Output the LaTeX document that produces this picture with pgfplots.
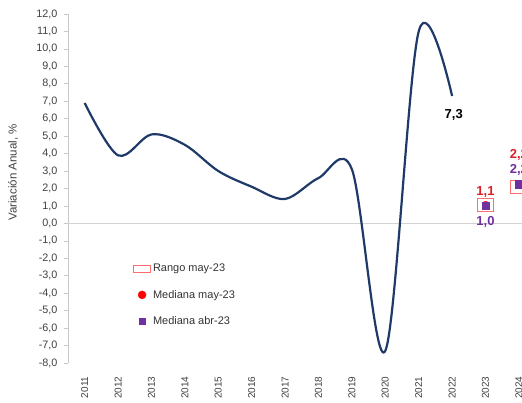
\documentclass[border=0pt]{standalone}
\usepackage{pgfplots}
\pgfplotsset{compat=1.18}
\usepackage{fontspec}
\setmainfont{Liberation Sans}
\definecolor{navy}{RGB}{31,58,104}
\definecolor{rlab}{RGB}{220,30,40}
\definecolor{plab}{RGB}{112,48,160}
\definecolor{boxred}{RGB}{255,110,110}
\definecolor{axgray}{RGB}{200,200,200}
\begin{document}
\begin{tikzpicture}[x=1pt,y=1pt]
\useasboundingbox (0,0) rectangle (522,403);
\begin{axis}[
  at={(68pt,40pt)}, anchor=south west,
  scale only axis, width=467.6pt, height=349pt,
  xmin=-0.5, xmax=13.5, ymin=-8, ymax=12,
  axis x line*=none, axis y line*=left,
  axis line style={axgray},
  x axis line style={draw=none},
  xtick={0,...,13},
  xticklabels={2011,2012,2013,2014,2015,2016,2017,2018,2019,2020,2021,2022,2023,2024},
  xtick style={draw=none},
  xticklabel shift=6pt,
  xticklabel style={rotate=90, anchor=east, font=\fontsize{10}{11}\selectfont, text=black!75},
  ytick={-8,-7,...,12},
  ytick style={axgray, line width=0.6pt},
  tick align=outside, major tick length=4pt,
  yticklabel style={font=\fontsize{10.8}{11}\selectfont, text=black!75, xshift=-3pt},
  /pgf/number format/.cd, fixed, fixed zerofill, precision=1, use comma, assume math mode=true,
  /pgfplots/.cd,
  ylabel={Variación Anual, \%},
  every axis y label/.style={at={(axis description cs:-0.1176,0.546)}, rotate=90, anchor=center, font=\fontsize{11.5}{12}\selectfont, text=black!75},
  clip=false,
  legend style={draw=none, fill=none, at={(axis description cs:0.139,0.29)}, anchor=north west, font=\fontsize{11}{12}\selectfont, text=black!80, row sep=13pt, legend cell align=left, inner sep=0pt},
]
\addplot[axgray!80, line width=0.8pt, forget plot] coordinates {(-0.5,0) (13.5,0)};
\addplot[navy, line width=2.2pt, smooth, tension=0.55, forget plot] coordinates {
 (0,6.9) (1,3.9) (2,5.1) (3,4.5) (4,3.0) (5,2.1) (6,1.4) (7,2.6) (8,3.1) (9,-7.3) (10,11.0) (11,7.3)};
\addplot[boxred, fill=white, line width=0.8pt, legend image code/.code={\draw[boxred, line width=0.8pt, fill=white] (0pt,-3.5pt) rectangle (17pt,3.5pt);}]
 coordinates {(11.75,0.71) (12.25,0.71) (12.25,1.46) (11.75,1.46)} --cycle;
\addlegendentry{Rango may-23}
\addplot[boxred, fill=white, line width=0.8pt, forget plot]
 coordinates {(12.75,1.73) (13.25,1.73) (13.25,2.48) (12.75,2.48)} --cycle;
\addplot[only marks, mark=*, mark size=3pt, color=red, legend image code/.code={\draw[fill=red, draw=red] (8.5pt,0pt) circle (4pt);}]
 coordinates {(12,1.1) (13,2.2)};
\addlegendentry{Mediana may-23}
\addplot[only marks, mark=square*, mark size=3.6pt, color=plab, legend image code/.code={\fill[plab] (5.5pt,-3pt) rectangle (11.5pt,3pt);}]
 coordinates {(12,1.0) (13,2.25)};
\addlegendentry{Mediana abr-23}
\node[font=\bfseries\fontsize{13}{14}\selectfont, text=black] at (axis cs:11.05,6.2) {7,3};
\node[font=\bfseries\fontsize{13}{14}\selectfont, text=rlab] at (axis cs:12,1.8) {1,1};
\node[font=\bfseries\fontsize{13}{14}\selectfont, text=plab] at (axis cs:12,0.1) {1,0};
\node[font=\bfseries\fontsize{13}{14}\selectfont, text=rlab] at (axis cs:13,3.92) {2,2};
\node[font=\bfseries\fontsize{13}{14}\selectfont, text=plab] at (axis cs:13,3.06) {2,2};
\end{axis}
\end{tikzpicture}
\end{document}
